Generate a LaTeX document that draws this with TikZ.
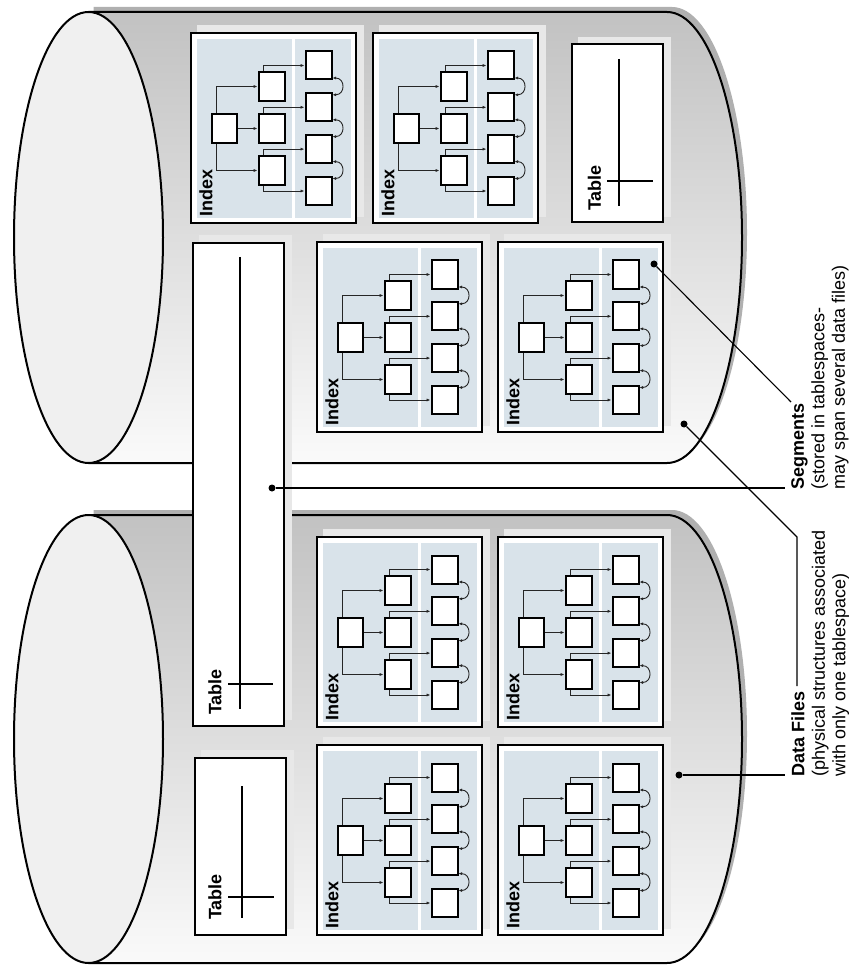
\documentclass[tikz,border=0pt]{standalone}
\usepackage{fontspec}
\setmainfont{Liberation Sans}
\usetikzlibrary{arrows.meta}
\definecolor{cylshadow}{HTML}{B0B0B0}
\definecolor{cyltop}{HTML}{C2C2C2}
\definecolor{cylbot}{HTML}{FAFAFA}
\definecolor{capfill}{HTML}{F0F0F0}
\definecolor{boxshadow}{HTML}{E8E8E8}
\definecolor{panel}{HTML}{D9E3EA}
\newcommand\drawcyl[2]{%
  \pgfmathsetmacro\cyc{(#1+#2)/2}%
  \pgfmathsetmacro\cyk{0.5523*(#2-#1)/2}%
  \pgfmathsetmacro\cyr{(#2-#1)/2}%
  \fill[cylshadow] (93.5,{#1-5}) -- (672,{#1-5}) .. controls (713.4,{#1-5}) and (747,{\cyc-5-\cyk}) .. (747,{\cyc-5}) .. controls (747,{\cyc-5+\cyk}) and (713.4,{#2-5}) .. (672,{#2-5}) -- (93.5,{#2-5}) -- cycle;
  \shade[top color=cyltop,bottom color=cylbot] (88.5,#1) -- (667,#1) .. controls (708.4,#1) and (742,{\cyc-\cyk}) .. (742,\cyc) .. controls (742,{\cyc+\cyk}) and (708.4,#2) .. (667,#2) -- (88.5,#2) -- cycle;
  \draw[cyledge] (88.5,#1) -- (667,#1) .. controls (708.4,#1) and (742,{\cyc-\cyk}) .. (742,\cyc) .. controls (742,{\cyc+\cyk}) and (708.4,#2) .. (667,#2) -- (88.5,#2);
  \draw[cyledge,fill=capfill] (88.5,\cyc) ellipse [x radius=74.5pt, y radius=\cyr pt];
}
\tikzset{
  cyledge/.style={line width=2pt, black},
  outerbox/.style={draw=black, fill=white, line width=2.2pt, inner sep=0pt},
  sbox/.style={draw=black, fill=white, line width=2pt, inner sep=0pt, minimum width=26pt, minimum height=29pt},
  arr/.style={line width=0.9pt, black!85, -{Latex[length=4pt,width=3.2pt]}},
  link/.style={line width=0.9pt, black!85, {Latex[length=3.5pt,width=3pt]}-{Latex[length=3.5pt,width=3pt]}},
  lbl/.style={inner sep=0pt, font=\bfseries\fontsize{18}{20}\selectfont},
  tline/.style={line width=1.6pt, black},
  dot/.style={circle, fill=black, inner sep=0pt, minimum size=7pt},
  conn/.style={line width=1.1pt, black},
  note/.style={rotate=90, align=left, inner sep=0pt, font=\fontsize{18}{20.5}\selectfont},
  pics/idx/.style={code={
    \fill[boxshadow] (7,-7) rectangle (174,185);
    \node[outerbox, minimum width=164.8pt, minimum height=189.8pt] (-box) at (83.5,96) {};
    \fill[panel] (7,7) rectangle (102,186);
    \fill[panel] (105,7) rectangle (161,186);
    \node[sbox, minimum width=25pt] (-root) at (34.5,96.5) {};
    \node[sbox] (-m1) at (81.5,54.5) {};
    \node[sbox] (-m2) at (81.5,96.5) {};
    \node[sbox] (-m3) at (81.5,138.5) {};
    \node[sbox, minimum height=28pt] (-l1) at (128.5,33.5) {};
    \node[sbox, minimum height=28pt] (-l2) at (128.5,75.3) {};
    \node[sbox, minimum height=28pt] (-l3) at (128.5,117.1) {};
    \node[sbox, minimum height=28pt] (-l4) at (128.5,159) {};
    \draw[arr] ([xshift=5pt]-root.north west) |- (-m1.west);
    \draw[arr] (-root.east) -- (-m2.west);
    \draw[arr] ([xshift=5pt]-root.south west) |- (-m3.west);
    \draw[arr] ([xshift=6pt]-m1.north west) |- (-l1.west);
    \draw[arr] ([xshift=6pt]-m2.north west) |- (-l2.west);
    \draw[arr] ([xshift=6pt]-m3.north west) |- (-l3.west);
    \draw[arr] ([xshift=6pt]-m3.south west) |- (-l4.west);
    \draw[link] ([yshift=2.5pt]-l1.south east) .. controls +(13,0) and +(13,0) .. ([yshift=-2.5pt]-l2.north east);
    \draw[link] ([yshift=2.5pt]-l2.south east) .. controls +(13,0) and +(13,0) .. ([yshift=-2.5pt]-l3.north east);
    \draw[link] ([yshift=2.5pt]-l3.south east) .. controls +(13,0) and +(13,0) .. ([yshift=-2.5pt]-l4.north east);
    \node[lbl, rotate=90, anchor=west] (-lab) at (16,185) {Index};
  }}
}
\begin{document}
\begin{tikzpicture}[x=1pt,y=-1pt]
\useasboundingbox (0,0) rectangle (863,965);
\fill[white] (0,0) rectangle (863,965);
% cylinders
\drawcyl{12}{463}
\drawcyl{515}{963}
% top cylinder contents
\pic (A1) at (190,32) {idx};
\pic (A2) at (372,32) {idx};
\pic (B1) at (316,241) {idx};
\pic (B2) at (497,241) {idx};
% bottom cylinder contents
\pic (C1) at (316,536) {idx};
\pic (C2) at (497,536) {idx};
\pic (D1) at (316,744) {idx};
\pic (D2) at (497,744) {idx};
% table top right
\fill[boxshadow] (578,37) rectangle (671,217);
\node[outerbox, minimum width=90.8pt, minimum height=177.8pt] (T1) at (617.5,133) {};
\draw[tline] (619,59) -- (619,206);
\draw[tline] (607,181) -- (653,181);
\node[lbl, rotate=90, anchor=west] (T1lab) at (594.5,211) {Table};
% long table
\fill[boxshadow] (199,235) rectangle (292,720);
\node[outerbox, minimum width=90.8pt, minimum height=482.8pt] (LT) at (238.5,484.5) {};
\draw[tline] (240,257) -- (240,709);
\draw[tline] (228,684) -- (273,684);
\node[lbl, rotate=90, anchor=west] (LTlab) at (215,715) {Table};
% small bottom table
\fill[boxshadow] (201,750) rectangle (294,929);
\node[outerbox, minimum width=90.8pt, minimum height=176.8pt] (T2) at (240.5,846.5) {};
\draw[tline] (242,786) -- (242,918);
\draw[tline] (228,897) -- (274,897);
\node[lbl, rotate=90, anchor=west] (T2lab) at (215,920) {Table};
% callouts
\node[dot] (dSegA) at (654,264) {};
\node[dot] (dSegB) at (272,488) {};
\node[dot] (dDatA) at (684,424) {};
\node[dot] (dDatB) at (679,775) {};
\node[note, anchor=north west] (seg) at (791,490) {\textbf{Segments}\\(stored in tablespaces-\\may span several data files)};
\node[note, anchor=north west] (dat) at (791,777) {\textbf{Data Files}\\(physical structures associated\\with only one tablespace)};
\coordinate (segEndA) at (791,402);
\coordinate (segEndB) at (785,488);
\coordinate (datBend) at (797,537);
\coordinate (datEndA) at (797,686);
\coordinate (datEndB) at (785,775);
\draw[conn] (dSegA) -- (segEndA);
\draw[conn] (dSegB) -- (segEndB);
\draw[conn] (dDatA) -- (datBend) -- (datEndA);
\draw[conn] (dDatB) -- (datEndB);
\end{tikzpicture}
\end{document}
